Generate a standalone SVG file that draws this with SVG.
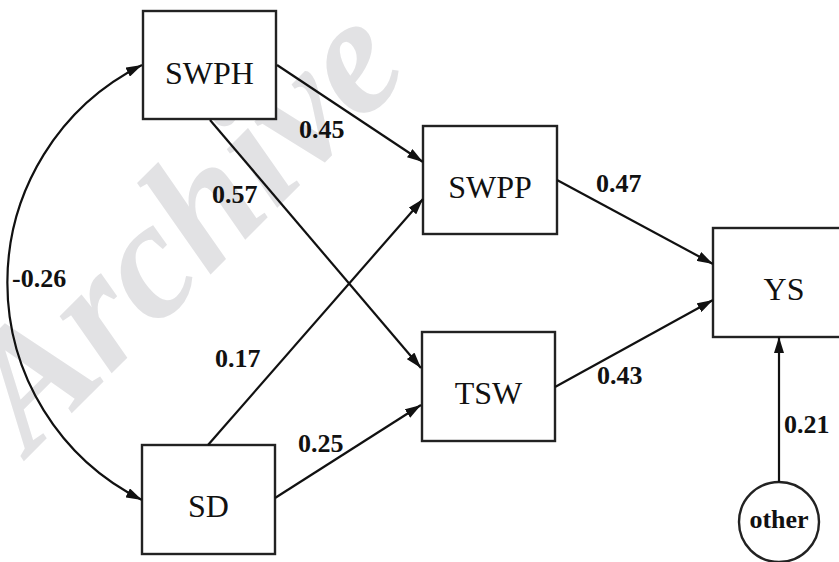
<svg xmlns="http://www.w3.org/2000/svg" width="839" height="562" viewBox="0 0 839 562">
<defs>
<marker id="ah" viewBox="0 0 16 10" refX="16" refY="5" markerWidth="16" markerHeight="10" markerUnits="userSpaceOnUse" orient="auto-start-reverse">
<path d="M0,0 L16,5 L0,10 Z" fill="#111"/>
</marker>
<style>
.box{fill:#fff;stroke:#222;stroke-width:2.4}
.nt{font-size:32px;fill:#111;text-anchor:middle}
.lb{font-size:26px;font-weight:bold;fill:#111}
.cn{fill:none;stroke:#111;stroke-width:2.2;marker-end:url(#ah)}
.wm{font-size:168px;font-weight:bold;font-style:italic;fill:#e2e2e4}
</style>
</defs>
<rect width="839" height="562" fill="#fff"/>
<g font-family="Liberation Serif, DejaVu Serif, serif">
<text class="wm" x="30" y="455" transform="rotate(-45 30 455)">Archive</text>
<g id="nodes">
<g id="SWPH"><rect class="box" x="143" y="11" width="133" height="108"/><text class="nt" x="209.5" y="84">SWPH</text></g>
<g id="SWPP"><rect class="box" x="423" y="126" width="134" height="108"/><text class="nt" x="490" y="198">SWPP</text></g>
<g id="TSW"><rect class="box" x="422" y="332" width="133" height="109"/><text class="nt" x="488.5" y="404">TSW</text></g>
<g id="SD"><rect class="box" x="142" y="445" width="133" height="109"/><text class="nt" x="208.5" y="517">SD</text></g>
<g id="YS"><rect class="box" x="713" y="228" width="140" height="109"/><text class="nt" x="784" y="300">YS</text></g>
<g id="other"><circle class="box" cx="779" cy="522" r="40"/><text class="lb" x="779" y="528" text-anchor="middle" font-size="24">other</text></g>
</g>
<g id="connectors">
<path class="cn" d="M142,65 A243,243 0 0 0 142,500" marker-start="url(#ah)"/>
<line class="cn" x1="277" y1="65" x2="423" y2="162"/>
<line class="cn" x1="210" y1="120" x2="421" y2="368"/>
<line class="cn" x1="208" y1="445" x2="423" y2="199"/>
<line class="cn" x1="275" y1="498" x2="421" y2="405"/>
<line class="cn" x1="557" y1="180" x2="713" y2="264"/>
<line class="cn" x1="555" y1="387" x2="713" y2="300"/>
<line class="cn" x1="779" y1="482" x2="779" y2="337"/>
</g>
<g id="labels">
<text class="lb" x="299" y="138">0.45</text>
<text class="lb" x="212" y="203">0.57</text>
<text class="lb" x="12" y="287">-0.26</text>
<text class="lb" x="215" y="367">0.17</text>
<text class="lb" x="298" y="452">0.25</text>
<text class="lb" x="596" y="192">0.47</text>
<text class="lb" x="597" y="384">0.43</text>
<text class="lb" x="784" y="433">0.21</text>
</g>
</g>
</svg>
